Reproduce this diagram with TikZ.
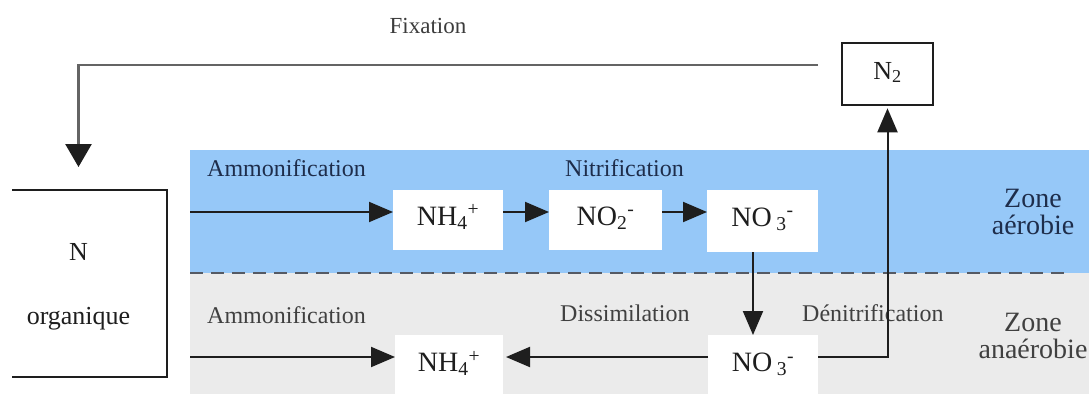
\documentclass[tikz,border=0pt]{standalone}
\usepackage{fontspec}
\setmainfont{Liberation Serif}
\usetikzlibrary{arrows.meta}
\definecolor{aerob}{RGB}{150,200,248}
\definecolor{anaerob}{RGB}{235,235,235}
\definecolor{ink}{RGB}{30,30,30}
\definecolor{navy}{RGB}{30,45,75}
\definecolor{fixgray}{RGB}{100,100,100}
\definecolor{dashgray}{RGB}{85,90,100}
\tikzset{
  chem/.style={fill=white, inner sep=0pt, outer sep=0pt, text=ink,
    font=\fontsize{28}{30}\selectfont, text height=20pt, text depth=10pt},
  lab/.style={font=\fontsize{24}{28}\selectfont, anchor=base west, inner sep=0pt},
  zonetxt/.style={font=\fontsize{28}{27}\selectfont, align=center, inner sep=0pt},
  flow/.style={draw=ink, line width=2pt, -{Triangle[length=24pt,width=20pt]}},
}
\begin{document}
\begin{tikzpicture}[x=1pt,y=-1pt]
\useasboundingbox (0,0) rectangle (1089,394);
\fill[white] (0,0) rectangle (1089,394);
% zones
\fill[aerob] (190,150) rectangle (1089,273);
\fill[anaerob] (190,273) rectangle (1089,394);
\draw[dashgray, line width=1.8pt, dash pattern=on 13pt off 8pt] (190,273) -- (1068,273);

% organic N box
\node[inner sep=0pt, outer sep=0pt, minimum width=177pt, minimum height=187pt,
  align=center, text=ink, font=\fontsize{26}{64}\selectfont, text depth=0pt]
  (norg) at (78.5,283.5) {N\\organique};
\draw[ink, line width=2.4pt] ([xshift=22pt]norg.north west) -- (norg.north east)
  -- (norg.south east) -- ([xshift=22pt]norg.south west);

% N2 box
\node[draw=ink, line width=2.6pt, fill=white, inner sep=0pt, minimum width=91pt,
  minimum height=62pt, text=ink, font=\fontsize{26}{30}\selectfont,
  text height=18pt, text depth=8pt] (n2) at (887.5,74) {N\textsubscript{2}};

% chemical boxes
\node[chem, minimum width=110pt, minimum height=60pt] (nh4a) at (448,220) {NH\textsubscript{4}\textsuperscript{+}};
\node[chem, minimum width=113pt, minimum height=60pt] (no2a) at (605.5,220) {NO\textsubscript{2}\textsuperscript{-}};
\node[chem, minimum width=111pt, minimum height=62pt] (no3a) at (762.5,221) {NO\,\textsubscript{3}\textsuperscript{-}};
\node[chem, minimum width=108pt, minimum height=59pt, text depth=6pt] (nh4b) at (449,364.5) {NH\textsubscript{4}\textsuperscript{+}};
\node[chem, minimum width=110pt, minimum height=59pt, text depth=6pt] (no3b) at (763,364.5) {NO\,\textsubscript{3}\textsuperscript{-}};

% labels
\node[lab, text=fixgray!60!black, font=\fontsize{23}{28}\selectfont, anchor=base] (fix) at (428,33) {Fixation};
\node[lab, text=navy] (amma) at (207,176) {Ammonification};
\node[lab, text=navy] (nitr) at (565,176) {Nitrification};
\node[lab, text=ink!85] (ammb) at (207,323) {Ammonification};
\node[lab, text=ink!85] (diss) at (560,321) {Dissimilation};
\node[lab, text=ink!85] (deni) at (802,321) {Dénitrification};
\node[zonetxt, text=navy] (zaer) at (1033,212) {Zone\\aérobie};
\node[zonetxt, text=ink!85] (zana) at (1033,336) {Zone\\anaérobie};

% connectors
\coordinate (toprow) at (190,212);
\coordinate (lowrow) at (190,357);
\coordinate (fixend) at (818,65);
\draw[flow] (toprow) -- (nh4a.west |- toprow);
\draw[flow] (nh4a.east |- toprow) -- (no2a.west |- toprow);
\draw[flow] (no2a.east |- toprow) -- (no3a.west |- toprow);
\draw[flow] ([xshift=-9.5pt]no3a.south) -- ([xshift=-10pt]no3b.north);
\draw[flow] (lowrow) -- (nh4b.west |- lowrow);
\draw[flow, shorten >=3pt] (no3b.west |- lowrow) -- (nh4b.east |- lowrow);
\draw[flow, shorten >=2pt] (no3b.east |- lowrow) -| (n2.south);
\draw[draw=fixgray, line width=2.6pt, shorten >=23pt,
  -{Triangle[length=23pt,width=26pt,color=ink]}] (fixend) -| (norg.north);
\end{tikzpicture}
\end{document}
